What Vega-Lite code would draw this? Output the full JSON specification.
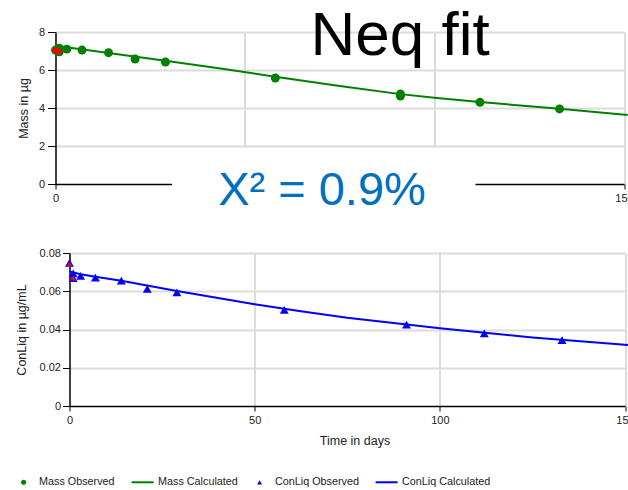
{
  "$schema": "https://vega.github.io/schema/vega-lite/v6.json",
  "padding": {"left": 14.5, "top": 5, "right": 0, "bottom": 0},
  "config": {
    "font": "Liberation Sans",
    "view": {"stroke": null},
    "axis": {
      "labelFont": "Liberation Sans", "labelFontSize": 11, "labelColor": "#222222",
      "titleFont": "Liberation Sans", "titleFontSize": 12.5, "titleFontWeight": "normal", "titleColor": "#222222",
      "domainColor": "#000000", "domainWidth": 1.5, "tickColor": "#000000", "tickWidth": 1,
      "gridColor": "#dcdcdc", "gridWidth": 2, "labelFlush": false
    }
  },
  "datasets": {
    "mass_obs": [
      {"series": "Mass Observed", "t": 0, "mass": 7.05},
      {"series": "Mass Observed", "t": 1, "mass": 7.15},
      {"series": "Mass Observed", "t": 1, "mass": 6.96},
      {"series": "Mass Observed", "t": 3, "mass": 7.1},
      {"series": "Mass Observed", "t": 7, "mass": 7.05},
      {"series": "Mass Observed", "t": 14, "mass": 6.91},
      {"series": "Mass Observed", "t": 21, "mass": 6.58},
      {"series": "Mass Observed", "t": 29, "mass": 6.42},
      {"series": "Mass Observed", "t": 58, "mass": 5.58},
      {"series": "Mass Observed", "t": 91, "mass": 4.74},
      {"series": "Mass Observed", "t": 91, "mass": 4.63},
      {"series": "Mass Observed", "t": 112, "mass": 4.3},
      {"series": "Mass Observed", "t": 133, "mass": 3.95}
    ],
    "mass_calc": [
      {"t": 0, "mass": 7.28},
      {"t": 14, "mass": 6.9},
      {"t": 29, "mass": 6.49},
      {"t": 44, "mass": 6.06},
      {"t": 58, "mass": 5.65},
      {"t": 75, "mass": 5.16},
      {"t": 91, "mass": 4.73},
      {"t": 100, "mass": 4.54},
      {"t": 112, "mass": 4.32},
      {"t": 125, "mass": 4.09},
      {"t": 133, "mass": 3.96},
      {"t": 151, "mass": 3.63}
    ],
    "mass_excl": [
      {"t": 0, "mass": 7.05},
      {"t": 1, "mass": 6.96}
    ],
    "conliq_obs": [
      {"series": "ConLiq Observed", "t": 0, "c": 0.0748},
      {"series": "ConLiq Observed", "t": 1, "c": 0.0694},
      {"series": "ConLiq Observed", "t": 1, "c": 0.0669},
      {"series": "ConLiq Observed", "t": 3, "c": 0.0681},
      {"series": "ConLiq Observed", "t": 7, "c": 0.0671},
      {"series": "ConLiq Observed", "t": 14, "c": 0.0655},
      {"series": "ConLiq Observed", "t": 21, "c": 0.0612},
      {"series": "ConLiq Observed", "t": 29, "c": 0.0594},
      {"series": "ConLiq Observed", "t": 58, "c": 0.0502},
      {"series": "ConLiq Observed", "t": 91, "c": 0.0425},
      {"series": "ConLiq Observed", "t": 112, "c": 0.038},
      {"series": "ConLiq Observed", "t": 133, "c": 0.0345}
    ],
    "conliq_calc": [
      {"t": 0, "c": 0.0704},
      {"t": 3, "c": 0.0689},
      {"t": 7, "c": 0.0676},
      {"t": 14, "c": 0.0655},
      {"t": 29, "c": 0.0601},
      {"t": 50, "c": 0.0532},
      {"t": 62, "c": 0.0497},
      {"t": 75, "c": 0.0462},
      {"t": 100, "c": 0.0406},
      {"t": 125, "c": 0.0358},
      {"t": 151, "c": 0.0319}
    ],
    "conliq_excl": [
      {"t": 0, "c": 0.0742},
      {"t": 1, "c": 0.0669}
    ]
  },
  "resolve": {"scale": {"color": "shared", "shape": "shared"}, "legend": {"color": "shared", "shape": "shared"}},
  "spacing": 34,
  "vconcat": [
    {
      "width": 555.5,
      "height": 152,
      "title": {"text": "Neq fit", "fontSize": 62, "font": "Liberation Sans", "fontWeight": "normal", "color": "#000000", "anchor": "start", "frame": "group", "dx": 241, "dy": 91, "baseline": "alphabetic", "offset": 0},
      "encoding": {
        "x": {
          "field": "t", "type": "quantitative",
          "scale": {"domain": [0, 150], "nice": false, "range": [-14, 554.5]},
          "axis": {
            "title": "X² = 0.9%", "values": [0, 50, 100, 150], "grid": true,
            "tickSize": 5, "labelPadding": 3,
            "labelExpr": "datum.value == 0 || datum.value == 150 ? datum.label : ''",
            "tickOpacity": {"condition": {"test": "datum.value == 0 || datum.value == 150", "value": 1}, "value": 0},
            "gridOpacity": {"condition": {"test": "datum.value == 0", "value": 0}, "value": 1},
            "gridDash": {"condition": {"test": "datum.value > 0 && datum.value < 150", "value": [115, 200]}, "value": []},
            "domainDash": [116, 303.5, 400],
            "titleFontSize": 47, "titleColor": "#0070C0", "titleFontWeight": "normal",
            "titleX": 252, "titleY": 20, "titleAlign": "center", "titleBaseline": "alphabetic"
          }
        },
        "y": {
          "field": "mass", "type": "quantitative",
          "scale": {"domain": [0, 8], "nice": false},
          "axis": {
            "title": "Mass in µg", "values": [0, 2, 4, 6, 8], "grid": true, "offset": 14,
            "tickSize": 8, "labelPadding": 3, "titlePadding": 7.5,
            "gridOpacity": {"condition": {"test": "datum.value == 0", "value": 0}, "value": 1}
          }
        }
      },
      "layer": [
        {
          "data": {"name": "mass_calc"},
          "mark": {"type": "line", "strokeWidth": 2, "clip": false, "color": "#008000"},
          "encoding": {}
        },
        {
          "data": {"name": "mass_obs"},
          "mark": {"type": "point", "filled": true, "size": 80, "opacity": 1},
          "encoding": {
            "color": {"field": "series", "type": "nominal",
              "scale": {"domain": ["Mass Observed", "Mass Calculated", "ConLiq Observed", "ConLiq Calculated"], "range": ["#008000", "#008000", "#0000ff", "#0000ff"]},
              "legend": {"title": null, "orient": "none", "direction": "horizontal", "legendX": -51.3, "legendY": 444.5, "symbolSize": 25, "labelFontSize": 10.8, "labelColor": "#222222", "labelFont": "Liberation Sans", "labelOffset": 10, "columnPadding": 16, "symbolStrokeWidth": 0, "symbolOpacity": 1, "padding": 0}},
            "shape": {"field": "series", "type": "nominal",
              "scale": {"domain": ["Mass Observed", "Mass Calculated", "ConLiq Observed", "ConLiq Calculated"], "range": ["circle", "M-4.4,-0.4H4.4V0.4H-4.4Z", "triangle-up", "M-4.4,-0.4H4.4V0.4H-4.4Z"]},
              "legend": {"title": null, "orient": "none", "direction": "horizontal", "legendX": -51.3, "legendY": 444.5, "symbolSize": 25, "labelFontSize": 10.8, "labelColor": "#222222", "labelFont": "Liberation Sans", "labelOffset": 10, "columnPadding": 16, "symbolStrokeWidth": 0, "symbolOpacity": 1, "padding": 0}}
          }
        },
        {
          "data": {"name": "mass_excl"},
          "mark": {"type": "point", "filled": true, "size": 36, "opacity": 1, "shape": "circle", "color": "#ff0000"},
          "encoding": {}
        }
      ]
    },
    {
      "width": 555.5,
      "height": 153,
      "encoding": {
        "x": {
          "field": "t", "type": "quantitative",
          "scale": {"domain": [0, 150], "nice": false},
          "axis": {
            "title": "Time in days", "values": [0, 50, 100, 150], "grid": true,
            "tickSize": 5, "labelPadding": 3,
            "gridOpacity": {"condition": {"test": "datum.value == 0", "value": 0}, "value": 1},
            "titleX": 285, "titleY": 38.5, "titleAlign": "center", "titleBaseline": "alphabetic"
          }
        },
        "y": {
          "field": "c", "type": "quantitative",
          "scale": {"domain": [0, 0.08], "nice": false},
          "axis": {
            "title": "ConLiq in µg/mL", "values": [0, 0.02, 0.04, 0.06, 0.08], "format": "~g", "grid": true,
            "tickSize": 7, "labelPadding": 2, "titlePadding": 11,
            "gridOpacity": {"condition": {"test": "datum.value == 0", "value": 0}, "value": 1}
          }
        }
      },
      "layer": [
        {
          "data": {"name": "conliq_calc"},
          "mark": {"type": "line", "strokeWidth": 2, "clip": false, "color": "#0000ff"},
          "encoding": {}
        },
        {
          "data": {"name": "conliq_obs"},
          "mark": {"type": "point", "filled": true, "size": 80, "opacity": 1},
          "encoding": {
            "color": {"field": "series", "type": "nominal",
              "scale": {"domain": ["Mass Observed", "Mass Calculated", "ConLiq Observed", "ConLiq Calculated"], "range": ["#008000", "#008000", "#0000ff", "#0000ff"]},
              "legend": {"title": null, "orient": "none", "direction": "horizontal", "legendX": -51.3, "legendY": 444.5, "symbolSize": 25, "labelFontSize": 10.8, "labelColor": "#222222", "labelFont": "Liberation Sans", "labelOffset": 10, "columnPadding": 16, "symbolStrokeWidth": 0, "symbolOpacity": 1, "padding": 0}},
            "shape": {"field": "series", "type": "nominal",
              "scale": {"domain": ["Mass Observed", "Mass Calculated", "ConLiq Observed", "ConLiq Calculated"], "range": ["circle", "M-4.4,-0.4H4.4V0.4H-4.4Z", "triangle-up", "M-4.4,-0.4H4.4V0.4H-4.4Z"]},
              "legend": {"title": null, "orient": "none", "direction": "horizontal", "legendX": -51.3, "legendY": 444.5, "symbolSize": 25, "labelFontSize": 10.8, "labelColor": "#222222", "labelFont": "Liberation Sans", "labelOffset": 10, "columnPadding": 16, "symbolStrokeWidth": 0, "symbolOpacity": 1, "padding": 0}}
          }
        },
        {
          "data": {"name": "conliq_excl"},
          "mark": {"type": "point", "filled": true, "size": 30, "opacity": 1, "shape": "triangle-up", "color": "#ff0000"},
          "encoding": {}
        }
      ]
    }
  ]
}
